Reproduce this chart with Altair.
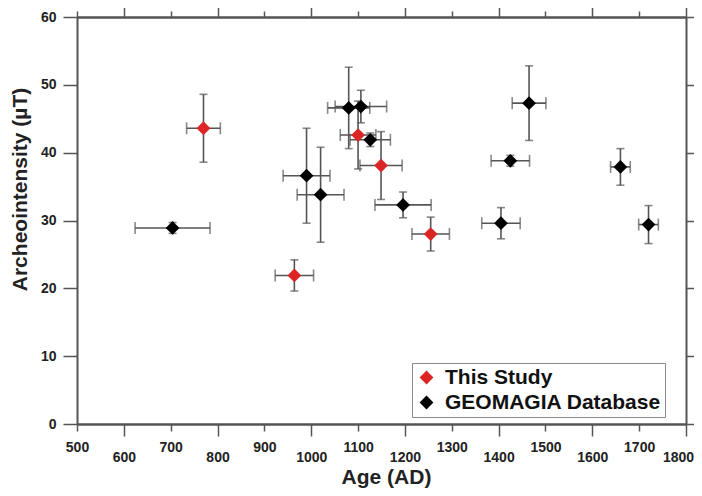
import altair as alt
import pandas as pd

# ---- data ----
study_age = [770, 964, 1100, 1149, 1255]
study_age_err = [36, 41, 38, 45, 40]
study_int = [43.6, 21.9, 42.6, 38.1, 28.0]
study_int_err = [5.0, 2.3, 5.0, 5.0, 2.5]

geo_age = [704, 990, 1020, 1080, 1106, 1126, 1196, 1465, 1425, 1405, 1660, 1720]
geo_age_err = [80, 50, 50, 45, 55, 43, 60, 36, 41, 41, 21, 21]
geo_int = [28.9, 36.6, 33.8, 46.6, 46.8, 41.9, 32.3, 47.3, 38.8, 29.6, 37.9, 29.4]
geo_int_err = [0.8, 7.0, 7.0, 6.0, 2.4, 1.0, 1.9, 5.5, 0.8, 2.3, 2.7, 2.8]

series_names = ["This Study", "GEOMAGIA Database"]
series_colors = ["#dc2626", "#000000"]

x_even = [600, 800, 1000, 1200, 1400, 1600, 1800]
x_odd = [500, 700, 900, 1100, 1300, 1500, 1700]
y_ticks = [0, 10, 20, 30, 40, 50, 60]

rows = []
for a, ae, v, ve in zip(study_age, study_age_err, study_int, study_int_err):
    rows.append(dict(series=series_names[0], age=a, alo=a - ae, ahi=a + ae, val=v, vlo=v - ve, vhi=v + ve))
for a, ae, v, ve in zip(geo_age, geo_age_err, geo_int, geo_int_err):
    rows.append(dict(series=series_names[1], age=a, alo=a - ae, ahi=a + ae, val=v, vlo=v - ve, vhi=v + ve))
df = pd.DataFrame(rows)

hcaps = pd.DataFrame(
    [dict(x=r["alo"], y=r["val"]) for r in rows] + [dict(x=r["ahi"], y=r["val"]) for r in rows]
)
vcaps = pd.DataFrame(
    [dict(x=r["age"], y=r["vlo"]) for r in rows] + [dict(x=r["age"], y=r["vhi"]) for r in rows]
)

FONT = "Liberation Sans"
GRAY = "#555555"
xs = alt.Scale(domain=[500, 1800], nice=False, zero=False)
ys = alt.Scale(domain=[0, 60], nice=False)

common_axis = dict(
    domainColor=GRAY, domainWidth=2, tickColor=GRAY, tickWidth=1.5,
    labelFont=FONT, labelFontWeight="bold", labelFontSize=14, labelColor="#222222",
    grid=False, format="d",
)

ax_bottom_even = alt.Axis(
    orient="bottom", values=x_even, tickSize=12, labelPadding=14, labelBaseline="top",
    labelOffset={"condition": {"test": "datum.value == 1800", "value": -8}, "value": 0},
    title="Age (AD)", titleFont=FONT, titleFontWeight="bold", titleFontSize=21,
    titleColor="#222222", titleX=309, titleY=59, titleAlign="center", titleBaseline="alphabetic",
    labelFlush=False, labelOverlap=False, **common_axis,
)
ax_bottom_odd = alt.Axis(
    orient="bottom", values=x_odd, tickSize=7, labelPadding=9, labelBaseline="top",
    title=None, labelFlush=False, labelOverlap=False, **common_axis,
)
ax_top_even = alt.Axis(orient="top", values=x_even, tickSize=12, labels=False, title=None, **common_axis)
ax_top_odd = alt.Axis(orient="top", values=x_odd, tickSize=6, labels=False, title=None, **common_axis)

ax_left = alt.Axis(
    orient="left", values=y_ticks, tickSize=14, labelPadding=7,
    title="Archeointensity (\u00b5T)", titleFont=FONT, titleFontWeight="bold", titleFontSize=21,
    titleColor="#222222", titleX=-51, titleY=172, titleAlign="center", titleBaseline="alphabetic",
    titleAngle=270, labelFlush=False, **common_axis,
)
ax_right = alt.Axis(orient="right", values=y_ticks, tickSize=8, labels=False, title=None, **common_axis)

base = alt.Chart(df)

hbars = base.mark_rule(color=GRAY, strokeWidth=1.6).encode(
    x=alt.X("alo:Q", scale=xs, axis=ax_bottom_even),
    x2="ahi:Q",
    y=alt.Y("val:Q", scale=ys, axis=ax_left),
)
vbars = base.mark_rule(color=GRAY, strokeWidth=1.6).encode(
    x=alt.X("age:Q", scale=xs, axis=ax_bottom_odd),
    y=alt.Y("vlo:Q", scale=ys, axis=ax_right),
    y2="vhi:Q",
)
hcap = alt.Chart(hcaps).mark_tick(color=GRAY, orient="vertical", size=12, thickness=1.6).encode(
    x=alt.X("x:Q", scale=xs, axis=ax_top_even),
    y=alt.Y("y:Q", scale=ys, axis=None),
)
vcap = alt.Chart(vcaps).mark_tick(color=GRAY, orient="horizontal", size=8, thickness=1.6).encode(
    x=alt.X("x:Q", scale=xs, axis=ax_top_odd),
    y=alt.Y("y:Q", scale=ys, axis=None),
)
points = base.mark_point(filled=True, shape="diamond", size=190, opacity=1).encode(
    x=alt.X("age:Q", scale=xs, axis=None),
    y=alt.Y("val:Q", scale=ys, axis=None),
    color=alt.Color(
        "series:N",
        scale=alt.Scale(domain=series_names, range=series_colors),
        legend=alt.Legend(
            title=None, orient="none", legendX=335, legendY=346,
            strokeColor="#888888", fillColor="white", padding=4,
            labelFont=FONT, labelFontWeight="bold", labelFontSize=21, labelColor="#111111",
            labelOffset=8, rowPadding=3, symbolType="diamond", symbolSize=190,
            symbolStrokeWidth=0, labelLimit=400,
        ),
    ),
)

chart = (
    alt.layer(hbars, vbars, hcap, vcap, points)
    .resolve_axis(x="independent", y="independent")
    .properties(
        width=609, height=407,
        autosize=alt.AutoSizeParams(type="none"),
        padding={"left": 69, "top": 9, "right": 8, "bottom": 64},
        background="white",
    )
    .configure_view(stroke=None)
)

chart.save("out.html", embed_options={"renderer": "svg", "actions": False})
